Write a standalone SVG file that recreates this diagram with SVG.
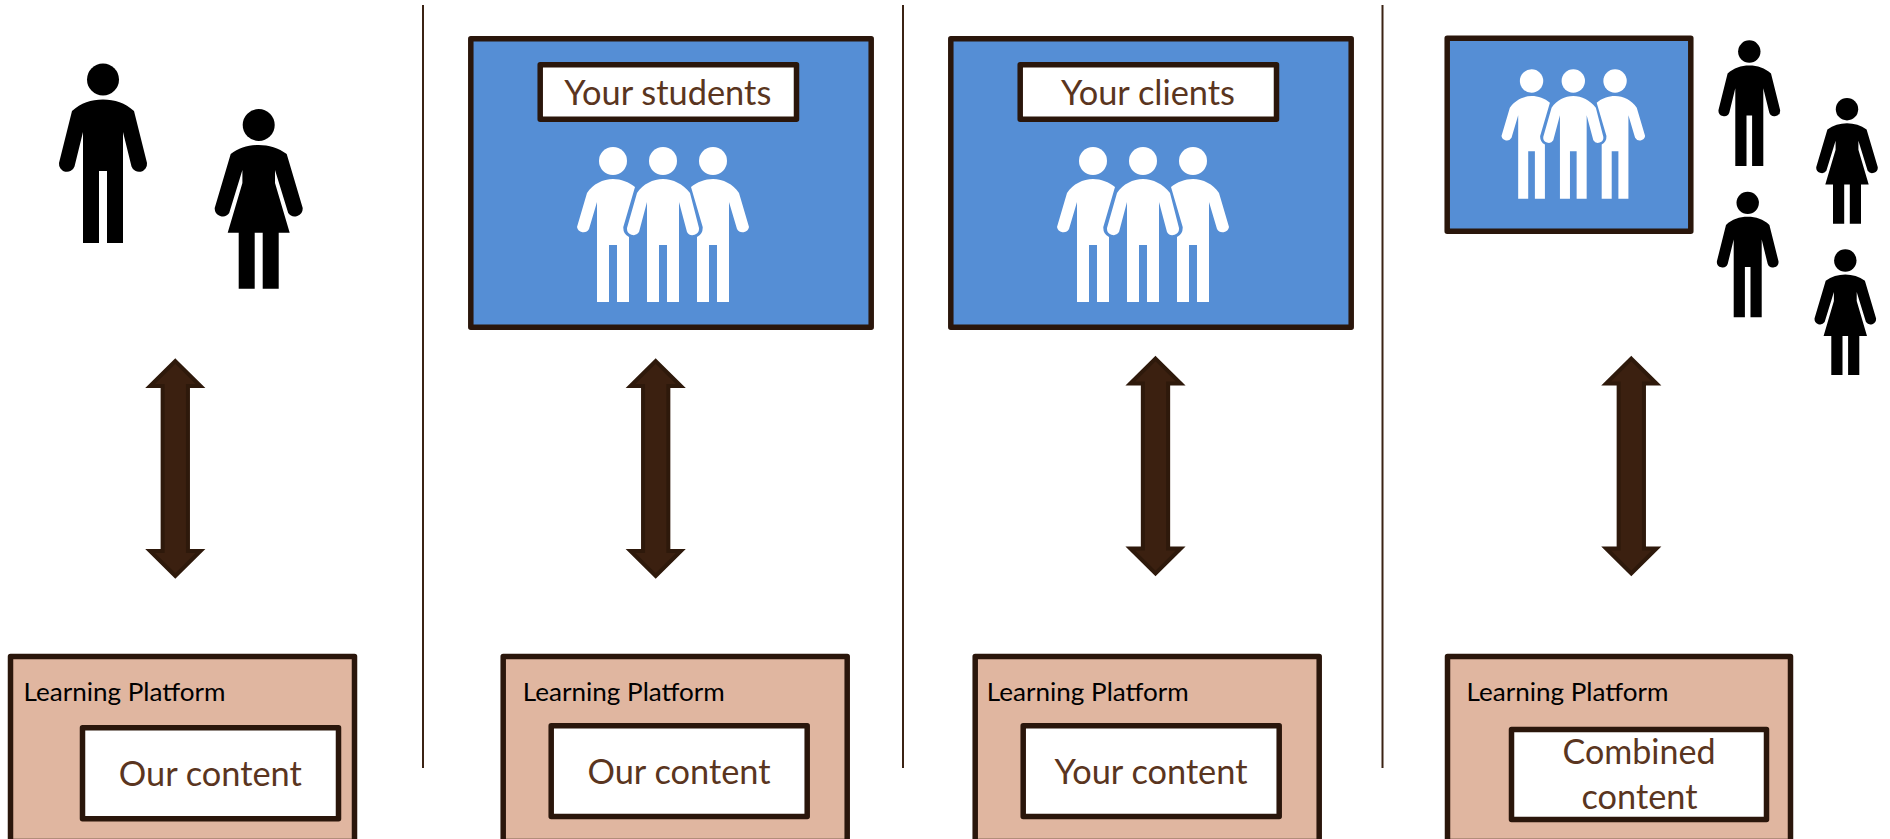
<svg xmlns="http://www.w3.org/2000/svg" width="1890" height="839" viewBox="0 0 1890 839">
<style>
text{font-family:"Lato","Noto Sans",sans-serif}
.box{stroke:#2a160b;stroke-width:5.500;stroke-linejoin:round}
.platform{fill:#e0b6a0}
.blue{fill:#558ed5}
.white{fill:#fff}
.lp{font-size:25px;fill:#000}
.t{font-size:35px;fill:#5a3520}
.div{stroke:#3b2314;stroke-width:2;fill:none}
.arrow{fill:#3b2010;stroke:#2e190b;stroke-width:4;stroke-linejoin:miter}
</style>
<defs>
<g id="man"><circle cx="0" cy="16.5" r="16"/><path d="M-31,48C-22,40 -12,36.500 0,36.500C12,36.500 22,40 31,48L44,100A8,8 0 0 1 28.500,103.500L20,69V180H4V108H-4V180H-20V69L-28.500,103.500A8,8 0 0 1 -44,100Z"/></g>
<g id="woman"><circle cx="0" cy="16" r="16"/><path d="M-28,45C-20,39 -10,36 0,36C10,36 20,39 28,45L44,99A8,8 0 0 1 29.500,104L16.300,61V74L31,123.700H20V179.700H4V123.700H-4V179.700H-20V123.700H-31L-16.300,74V61L-29.500,104A8,8 0 0 1 -44,99Z"/></g>
<path id="side" d="M-26,46C-20,37 -10,32 0,32C8,32 16,35 22,40L10.300,80Q10,87 16,90V155H4V98H-4V155H-16V55L-24,82A6.500,6.500 0 0 1 -36,80Z"/>
<g id="crowd" class="white">
<circle cx="-50" cy="14" r="14"/><circle cx="0" cy="14" r="14"/><circle cx="50" cy="14" r="14"/>
<use href="#side" x="-50"/><use href="#side" transform="translate(50,0) scale(-1,1)"/>
<path d="M-26,46C-20,37 -10,32 0,32C10,32 20,37 27,46L36,81A6.500,6.500 0 0 1 24,85L16,55V155H4V98H-4V155H-16V55L-24,85A6.500,6.500 0 0 1 -36,81Z"/>
</g>
<path id="arrow" d="M0,-107.400L25.200,-82.500H12.650V82.500H25.200L0,107.400L-25.200,82.500H-12.650V-82.500H-25.200Z"/>
</defs>
<g id="connectors">
<path class="div" d="M423,5V768"/><path class="div" d="M903,5V768"/><path class="div" d="M1382.500,5V768"/>
<use href="#arrow" class="arrow" x="175.300" y="468.500"/>
<use href="#arrow" class="arrow" x="655.700" y="468.500"/>
<use href="#arrow" class="arrow" x="1155.500" y="466"/>
<use href="#arrow" class="arrow" x="1631.300" y="466"/>
</g>
<g id="audience-1"><use href="#man" x="103" y="63"/><use href="#woman" x="258.700" y="109"/></g>
<g id="audience-2">
<rect class="box blue" x="470.800" y="38.800" width="400.400" height="288.400"/>
<rect class="box white" x="540.200" y="64.800" width="256.300" height="54.400"/>
<text class="t" x="667.800" y="105" text-anchor="middle" textLength="207" lengthAdjust="spacingAndGlyphs">Your students</text>
<use href="#crowd" x="663" y="147"/>
</g>
<g id="audience-3">
<rect class="box blue" x="950.800" y="38.800" width="400.400" height="288.400"/>
<rect class="box white" x="1020.200" y="64.800" width="256.300" height="54.400"/>
<text class="t" x="1148" y="105" text-anchor="middle" textLength="174" lengthAdjust="spacingAndGlyphs">Your clients</text>
<use href="#crowd" x="1143" y="147"/>
</g>
<g id="audience-4">
<rect class="box blue" x="1447.200" y="38.200" width="243.600" height="193"/>
<use href="#crowd" transform="translate(1573.300,69.300) scale(.835)"/>
<use href="#man" transform="translate(1749.300,40) scale(.7)"/>
<use href="#woman" transform="translate(1847,98) scale(.7)"/>
<use href="#man" transform="translate(1747.700,191.300) scale(.7)"/>
<use href="#woman" transform="translate(1845.300,249.300) scale(.7)"/>
</g>
<g id="platform-1">
<rect class="box platform" x="10.500" y="656.500" width="344" height="185"/>
<text class="lp" x="23.500" y="700.700" textLength="202" lengthAdjust="spacingAndGlyphs">Learning Platform</text>
<rect class="box white" x="82.500" y="727.800" width="256" height="91"/>
<text class="t" x="210.300" y="786" text-anchor="middle" textLength="183" lengthAdjust="spacingAndGlyphs">Our content</text>
</g>
<g id="platform-2">
<rect class="box platform" x="503.200" y="656.500" width="344" height="185"/>
<text class="lp" x="522.800" y="700.700" textLength="202" lengthAdjust="spacingAndGlyphs">Learning Platform</text>
<rect class="box white" x="551.200" y="725.800" width="256" height="90.700"/>
<text class="t" x="679" y="784" text-anchor="middle" textLength="183" lengthAdjust="spacingAndGlyphs">Our content</text>
</g>
<g id="platform-3">
<rect class="box platform" x="975.200" y="656.500" width="344" height="185"/>
<text class="lp" x="986.800" y="700.700" textLength="202" lengthAdjust="spacingAndGlyphs">Learning Platform</text>
<rect class="box white" x="1023.200" y="725.800" width="256" height="90.700"/>
<text class="t" x="1151" y="784" text-anchor="middle" textLength="193" lengthAdjust="spacingAndGlyphs">Your content</text>
</g>
<g id="platform-4">
<rect class="box platform" x="1447.500" y="656.500" width="343" height="185"/>
<text class="lp" x="1466.500" y="700.700" textLength="202" lengthAdjust="spacingAndGlyphs">Learning Platform</text>
<rect class="box white" x="1511.500" y="729.500" width="255" height="90"/>
<text class="t" x="1639" y="764" text-anchor="middle" textLength="153" lengthAdjust="spacingAndGlyphs">Combined</text>
<text class="t" x="1639.500" y="809" text-anchor="middle" textLength="116" lengthAdjust="spacingAndGlyphs">content</text>
</g>
</svg>
